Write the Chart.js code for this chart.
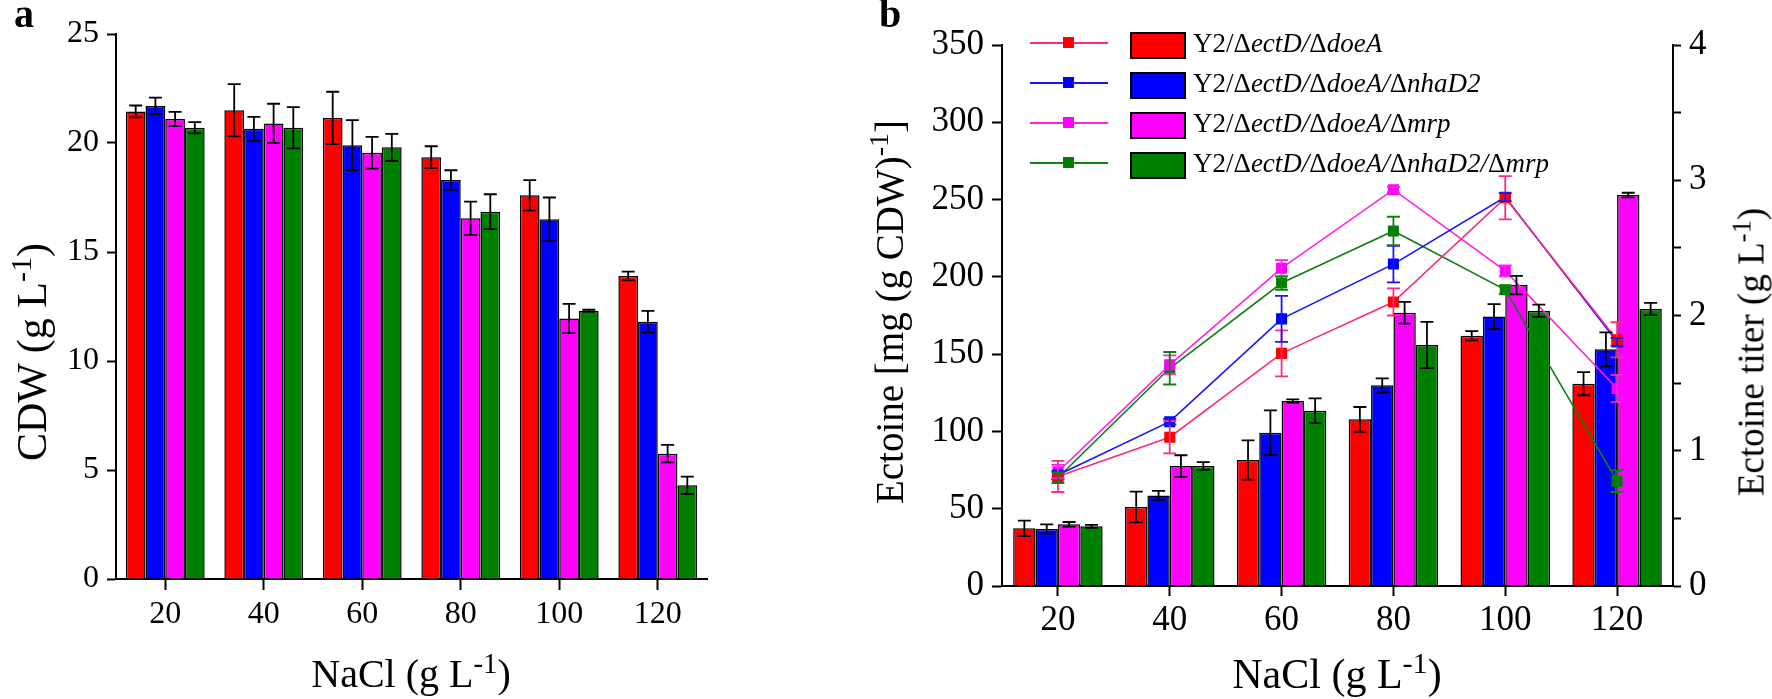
<!DOCTYPE html>
<html>
<head>
<meta charset="utf-8">
<script src="https://cdn.jsdelivr.net/npm/chart.js@4.4.1/dist/chart.umd.min.js"></script>
<style>
  body { margin: 0; background: #fff; }
  #wrap { position: relative; width: 1772px; height: 699px; overflow: hidden;
          font-family: "Liberation Serif", "Times New Roman", serif; color: #000; }
  canvas { position: absolute; top: 0; }
  .lbl { position: absolute; white-space: nowrap; line-height: 1; }
  .rot { transform: translate(-50%, -50%) rotate(-90deg); }
  .ctr { transform: translate(-50%, -50%); }
  sup { font-size: 0.72em; vertical-align: 0.5em; line-height: 0; }
  .sw { position: absolute; box-sizing: border-box; }
</style>
</head>
<body>
<div id="wrap">
  <canvas id="chartA" width="720" height="699" style="left:0;width:720px;height:699px"></canvas>
  <canvas id="chartB" width="902" height="699" style="left:870px;width:902px;height:699px"></canvas>

  <div class="lbl" style="left:14px;top:-6px;font-size:40px;font-weight:bold">a</div>
  <div class="lbl" style="left:879px;top:-6px;font-size:40px;font-weight:bold">b</div>

  <div class="lbl rot" style="left:32px;top:352px;font-size:42px">CDW (g L<sup>-1</sup>)</div>
  <div class="lbl ctr" style="left:411px;top:674px;font-size:40px">NaCl (g L<sup>-1</sup>)</div>

  <div class="lbl rot" style="left:889px;top:312px;font-size:39px">Ectoine [mg (g CDW)<sup>-1</sup>]</div>
  <div class="lbl rot" style="left:1751px;top:352px;font-size:37px">Ectoine titer (g L<sup>-1</sup>)</div>
  <div class="lbl ctr" style="left:1337px;top:674px;font-size:42px">NaCl (g L<sup>-1</sup>)</div>

  <div id="legend"></div>
</div>

<script>
// NaCl concentrations (x categories)
const nacl = ['20', '40', '60', '80', '100', '120'];

// strain names
const strains = [
  'Y2/ΔectD/ΔdoeA',
  'Y2/ΔectD/ΔdoeA/ΔnhaD2',
  'Y2/ΔectD/ΔdoeA/Δmrp',
  'Y2/ΔectD/ΔdoeA/ΔnhaD2/Δmrp'
];

// panel a: CDW (g/L)
const cdwRed = [21.45, 21.5, 21.15, 19.35, 17.6, 13.9];
const cdwRedErr = [0.27, 1.2, 1.2, 0.5, 0.7, 0.2];
const cdwBlue = [21.7, 20.65, 19.9, 18.3, 16.5, 11.8];
const cdwBlueErr = [0.38, 0.55, 1.15, 0.45, 1.0, 0.5];
const cdwMagenta = [21.1, 20.9, 19.55, 16.55, 11.95, 5.75];
const cdwMagentaErr = [0.33, 0.9, 0.73, 0.76, 0.67, 0.4];
const cdwGreen = [20.7, 20.7, 19.8, 16.85, 12.3, 4.3];
const cdwGreenErr = [0.26, 0.95, 0.62, 0.8, 0.05, 0.4];

// panel b bars: ectoine content, mg (g CDW)-1
const ectRed = [37.3, 51.1, 81.5, 107.8, 161.9, 130.9];
const ectRedErr = [5, 10, 12.7, 8, 3, 7.5];
const ectBlue = [36.9, 58.6, 99.2, 129.8, 174.4, 153.1];
const ectBlueErr = [3, 3, 14.4, 4.5, 8, 11];
const ectMagenta = [39.9, 77.6, 119.7, 176.8, 194.7, 252.9];
const ectMagentaErr = [1.5, 7, 1, 7, 6, 1.5];
const ectGreen = [38.6, 77.6, 113.4, 155.9, 178.1, 179.2];
const ectGreenErr = [1, 2.5, 8, 15, 4, 4];

// panel b lines: ectoine titer (g/L)
const titerRed = [0.81, 1.10, 1.72, 2.10, 2.87, 1.82];
const titerRedErr = [0.115, 0.12, 0.17, 0.10, 0.16, 0.13];
const titerBlue = [0.82, 1.215, 1.975, 2.38, 2.875, 1.805];
const titerBlueErr = [0.03, 0.02, 0.17, 0.135, 0.03, 0.03];
const titerMagenta = [0.845, 1.635, 2.35, 2.93, 2.33, 1.46];
const titerMagentaErr = [0.05, 0.07, 0.06, 0.02, 0.04, 0.1];
const titerGreen = [0.80, 1.61, 2.24, 2.625, 2.19, 0.775];
const titerGreenErr = [0.04, 0.12, 0.05, 0.105, 0.03, 0.08];

const barColors = ['#ff0000', '#0000ff', '#ff00ff', '#008000'];
const lineColors = ['#ff2a80', '#1414ff', '#ff22dd', '#108010'];

const serif = "'Liberation Serif', 'Times New Roman', serif";
Chart.defaults.font.family = serif;
Chart.defaults.color = '#000';

// error bars drawn from each dataset's errors array via its own scale
const errorBars = {
  id: 'errorBars',
  afterDatasetsDraw(chart) {
    const ctx = chart.ctx;
    chart.data.datasets.forEach((ds, i) => {
      if (!ds.errors) return;
      const meta = chart.getDatasetMeta(i);
      const scale = chart.scales[meta.yAxisID];
      ctx.save();
      ctx.strokeStyle = ds.errorColor || '#000';
      ctx.lineWidth = 1.8;
      meta.data.forEach((el, j) => {
        const v = ds.data[j], e = ds.errors[j];
        const top = scale.getPixelForValue(v + e);
        const bot = scale.getPixelForValue(v - e);
        const c = 6.5;
        ctx.beginPath();
        ctx.moveTo(el.x, top); ctx.lineTo(el.x, bot);
        ctx.moveTo(el.x - c, top); ctx.lineTo(el.x + c, top);
        ctx.moveTo(el.x - c, bot); ctx.lineTo(el.x + c, bot);
        ctx.stroke();
      });
      ctx.restore();
    });
  }
};

function barSet(data, errors, k) {
  return {
    type: 'bar', data: data, errors: errors, order: 1,
    backgroundColor: barColors[k], borderColor: '#000', borderWidth: 1.5,
    categoryPercentage: 0.8, barPercentage: 1
  };
}

function lineSet(data, errors, k) {
  return {
    type: 'line', data: data, errors: errors, errorColor: lineColors[k], order: 0,
    yAxisID: 'y2', borderColor: lineColors[k], borderWidth: 1.6, tension: 0,
    pointStyle: 'rect', pointRadius: 7.8, pointBorderWidth: 0,
    pointBackgroundColor: barColors[k]
  };
}

function axisGrid(len) {
  return { drawOnChartArea: false, tickLength: len, tickColor: '#000', tickWidth: 2 };
}

function tickFont(size) {
  return { family: serif, size: size };
}

// panel a
new Chart(document.getElementById('chartA'), {
  type: 'bar',
  data: {
    labels: nacl,
    datasets: [
      barSet(cdwRed, cdwRedErr, 0),
      barSet(cdwBlue, cdwBlueErr, 1),
      barSet(cdwMagenta, cdwMagentaErr, 2),
      barSet(cdwGreen, cdwGreenErr, 3)
    ]
  },
  options: {
    responsive: false,
    animation: false,
    layout: { padding: { top: 34, right: 13, left: 0, bottom: 0 } },
    plugins: { legend: { display: false }, tooltip: { enabled: false } },
    scales: {
      x: {
        grid: Object.assign(axisGrid(11), { offset: false }),
        border: { color: '#000', width: 2 },
        ticks: { font: tickFont(32), padding: 5 },
        afterFit(s) { s.height = 120; }
      },
      y: {
        min: 0, max: 25,
        ticks: { stepSize: 5, font: tickFont(32), padding: 8 },
        grid: axisGrid(9),
        border: { color: '#000', width: 2 },
        afterFit(s) { s.width = 116; }
      }
    }
  },
  plugins: [errorBars]
});

// panel b
new Chart(document.getElementById('chartB'), {
  type: 'bar',
  data: {
    labels: nacl,
    datasets: [
      lineSet(titerRed, titerRedErr, 0),
      lineSet(titerBlue, titerBlueErr, 1),
      lineSet(titerMagenta, titerMagentaErr, 2),
      lineSet(titerGreen, titerGreenErr, 3),
      barSet(ectRed, ectRedErr, 0),
      barSet(ectBlue, ectBlueErr, 1),
      barSet(ectMagenta, ectMagentaErr, 2),
      barSet(ectGreen, ectGreenErr, 3)
    ]
  },
  options: {
    responsive: false,
    animation: false,
    layout: { padding: { top: 45, right: 0, left: 0, bottom: 0 } },
    plugins: { legend: { display: false }, tooltip: { enabled: false } },
    scales: {
      x: {
        grid: Object.assign(axisGrid(10), { offset: false }),
        border: { color: '#000', width: 2 },
        ticks: { font: tickFont(35), padding: 4 },
        afterFit(s) { s.height = 113; }
      },
      y: {
        min: 0, max: 350,
        ticks: { stepSize: 50, font: tickFont(35), padding: 8 },
        grid: axisGrid(10),
        border: { color: '#000', width: 2 },
        afterFit(s) { s.width = 132; }
      },
      y2: {
        position: 'right',
        min: 0, max: 4,
        ticks: {
          stepSize: 0.5, font: tickFont(35), padding: 8,
          callback: v => Number.isInteger(v) ? v : ''
        },
        grid: axisGrid(8),
        border: { color: '#000', width: 2 },
        afterFit(s) { s.width = 99; }
      }
    }
  },
  plugins: [errorBars]
});

// legend for panel b
const legend = document.getElementById('legend');
const rowY = [45, 85, 125, 165];
strains.forEach((name, k) => {
  const cy = rowY[k];
  const html = name.replace(/Δ([^Δ]+)/g, 'Δ<i>$1</i>');
  legend.insertAdjacentHTML('beforeend',
    `<div class="sw" style="left:1030px;top:${cy - 3}px;width:78px;height:1.6px;background:${lineColors[k]}"></div>` +
    `<div class="sw" style="left:1063px;top:${cy - 8}px;width:11px;height:11px;background:${barColors[k]}"></div>` +
    `<div class="sw" style="left:1130px;top:${cy - 13}px;width:56px;height:27px;background:${barColors[k]};border:2px solid #000"></div>` +
    `<div class="lbl" style="left:1193px;top:${cy - 15}px;font-size:27px">${html}</div>`);
});
</script>
</body>
</html>
